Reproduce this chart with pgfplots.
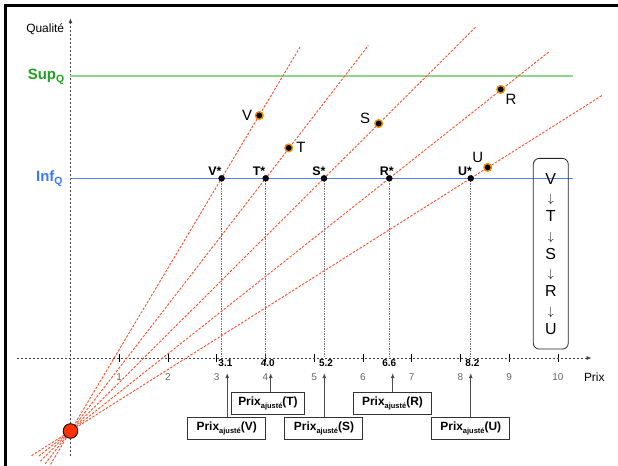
\documentclass[border=0pt]{standalone}
\usepackage{fontspec}
\setmainfont{Liberation Sans}
\usepackage{pgfplots}
\pgfplotsset{compat=1.18}
\usetikzlibrary{arrows.meta}

\definecolor{redl}{RGB}{255,75,40}
\definecolor{ofill}{RGB}{255,50,0}
\definecolor{ring}{RGB}{240,140,0}
\definecolor{greenl}{RGB}{140,215,140}
\definecolor{greent}{RGB}{30,160,30}
\definecolor{bluel}{RGB}{80,130,255}
\definecolor{bluet}{RGB}{60,120,255}

\newcommand{\prix}[1]{Prix\raisebox{-0.45ex}{\fontsize{7.5}{8}\selectfont ajusté}(#1)}
\newcommand{\da}{{\fontsize{13}{13}\selectfont$\downarrow$}}

\begin{document}
\begin{tikzpicture}
\begin{axis}[
  x=48.75bp, y=48.75bp,
  xmin=-1.1, xmax=10.69, ymin=-2.0, ymax=6.97,
  axis lines=middle,
  axis line style={black!75, line width=0.7bp, dash pattern=on 2bp off 2bp, -{Latex[length=5bp,width=4bp]}},
  xtick={1,...,10}, ytick=\empty,
  major tick length=8bp,
  tick style={black, solid, line width=0.8bp},
  /pgf/number format/assume math mode=true,
  xticklabel style={font=\fontsize{10}{12}\selectfont, text=black!60, anchor=base, yshift=-18.7bp},
  clip=false,
]
% frame
\draw[line width=3bp, black] (axis cs:-1.333,-2.4) -- (axis cs:-1.333,7.235) -- (axis cs:11.4,7.235);

% Sup / Inf lines
\addplot[greenl, line width=2bp, mark=none] coordinates {(0,5.778) (10.3,5.778)};
\addplot[bluel, line width=1.5bp, mark=none] coordinates {(0,3.686) (10.3,3.686)};

% rays from the origin point
\addplot[redl, line width=0.9bp, dash pattern=on 2.5bp off 1.5bp, mark=none] coordinates {(-0.41,-2.183) (0,-1.497) (4.71,6.378)};
\addplot[redl, line width=0.9bp, dash pattern=on 2.5bp off 1.5bp, mark=none] coordinates {(-0.52,-2.170) (0,-1.497) (6.11,6.412)};
\addplot[redl, line width=0.9bp, dash pattern=on 2.5bp off 1.5bp, mark=none] coordinates {(-0.62,-2.115) (0,-1.497) (8.31,6.786)};
\addplot[redl, line width=0.9bp, dash pattern=on 2.5bp off 1.5bp, mark=none] coordinates {(-0.65,-2.012) (0,-1.497) (9.82,6.285)};
\addplot[redl, line width=0.9bp, dash pattern=on 2.5bp off 1.5bp, mark=none] coordinates {(-0.80,-2.002) (0,-1.497) (10.92,5.397)};

% vertical drop lines
\addplot[black!55, line width=0.7bp, dash pattern=on 1.5bp off 1bp, mark=none] coordinates {(3.10,3.686) (3.10,0)};
\addplot[black!55, line width=0.7bp, dash pattern=on 1.5bp off 1bp, mark=none] coordinates {(4.004,3.686) (4.004,0)};
\addplot[black!55, line width=0.7bp, dash pattern=on 1.5bp off 1bp, mark=none] coordinates {(5.20,3.686) (5.20,0)};
\addplot[black!55, line width=0.7bp, dash pattern=on 1.5bp off 1bp, mark=none] coordinates {(6.54,3.686) (6.54,0)};
\addplot[black!55, line width=0.7bp, dash pattern=on 1.5bp off 1bp, mark=none] coordinates {(8.21,3.686) (8.21,0)};

% starred points
\addplot[only marks, mark=*, mark size=3bp, black] coordinates {(3.10,3.686) (4.004,3.686) (5.20,3.686) (6.54,3.686) (8.21,3.686)};
% products
\addplot[only marks, mark=*, mark size=3.8bp, mark options={fill=black, draw=ring, line width=1.4bp}] coordinates {(3.873,4.975) (4.476,4.31) (6.322,4.81) (8.825,5.51) (8.558,3.91)};
% origin point
\addplot[only marks, mark=*, mark size=7.3bp, mark options={fill=ofill, draw=black, line width=0.8bp}] coordinates {(0,-1.497)};

% axis labels
\node[anchor=base, font=\fontsize{12}{14}\selectfont] at (axis cs:-0.519,6.687) {Qualité};
\node[anchor=base, font=\fontsize{12}{14}\selectfont] at (axis cs:10.745,-0.486) {Prix};
\node[anchor=base west, inner sep=0pt, font=\fontsize{15}{17}\selectfont\bfseries, text=greent] at (axis cs:-0.878,5.717) {Sup\raisebox{-3bp}{\fontsize{10.5}{11}\selectfont Q}};
\node[anchor=base west, inner sep=0pt, font=\fontsize{15}{17}\selectfont\bfseries, text=bluet] at (axis cs:-0.708,3.617) {Inf\raisebox{-3bp}{\fontsize{10.5}{11}\selectfont Q}};

% star labels
\node[anchor=base, font=\fontsize{12.5}{14}\selectfont\bfseries] at (axis cs:2.964,3.754) {V*};
\node[anchor=base, font=\fontsize{12.5}{14}\selectfont\bfseries] at (axis cs:3.867,3.754) {T*};
\node[anchor=base, font=\fontsize{12.5}{14}\selectfont\bfseries] at (axis cs:5.097,3.754) {S*};
\node[anchor=base, font=\fontsize{12.5}{14}\selectfont\bfseries] at (axis cs:6.486,3.754) {R*};
\node[anchor=base, font=\fontsize{12.5}{14}\selectfont\bfseries] at (axis cs:8.092,3.754) {U*};

% product labels
\node[anchor=base, font=\fontsize{15}{17}\selectfont] at (axis cs:3.621,4.882) {V};
\node[anchor=base, font=\fontsize{15}{17}\selectfont] at (axis cs:4.728,4.211) {T};
\node[anchor=base, font=\fontsize{15}{17}\selectfont] at (axis cs:6.041,4.814) {S};
\node[anchor=base, font=\fontsize{15}{17}\selectfont] at (axis cs:9.036,5.210) {R};
\node[anchor=base, font=\fontsize{15}{17}\selectfont] at (axis cs:8.353,4.014) {U};

% adjusted price values
\node[anchor=base, font=\fontsize{10}{11}\selectfont\bfseries] at (axis cs:3.178,-0.164) {3.1};
\node[anchor=base, font=\fontsize{10}{11}\selectfont\bfseries] at (axis cs:4.045,-0.164) {4.0};
\node[anchor=base, font=\fontsize{10}{11}\selectfont\bfseries] at (axis cs:5.241,-0.164) {5.2};
\node[anchor=base, font=\fontsize{10}{11}\selectfont\bfseries] at (axis cs:6.54,-0.164) {6.6};
\node[anchor=base, font=\fontsize{10}{11}\selectfont\bfseries] at (axis cs:8.244,-0.164) {8.2};

% arrows
\draw[black!70, line width=1bp, -{Latex[length=5bp,width=4bp]}] (axis cs:3.215,-1.221) -- (axis cs:3.215,-0.308);
\draw[black!70, line width=1bp, -{Latex[length=5bp,width=4bp]}] (axis cs:4.108,-0.708) -- (axis cs:4.108,-0.308);
\draw[black!70, line width=1bp, -{Latex[length=5bp,width=4bp]}] (axis cs:5.206,-1.221) -- (axis cs:5.206,-0.308);
\draw[black!70, line width=1bp, -{Latex[length=5bp,width=4bp]}] (axis cs:6.609,-0.708) -- (axis cs:6.609,-0.308);
\draw[black!70, line width=1bp, -{Latex[length=5bp,width=4bp]}] (axis cs:8.21,-1.221) -- (axis cs:8.21,-0.308);

% boxes
\tikzset{pbox/.style={draw=black!80, fill=white, line width=1bp, minimum width=78bp, minimum height=22bp, inner sep=0pt, font=\fontsize{12}{14}\selectfont\bfseries}}
\node[pbox] at (axis cs:3.204,-1.446) {\prix{V}};
\node[pbox, minimum width=73bp] at (axis cs:4.051,-0.933) {\prix{T}};
\node[pbox] at (axis cs:5.20,-1.446) {\prix{S}};
\node[pbox] at (axis cs:6.605,-0.933) {\prix{R}};
\node[pbox] at (axis cs:8.211,-1.446) {\prix{U}};

% ranking box
\node[draw=black!85, line width=0.8bp, rounded corners=6bp, minimum width=35bp, minimum height=190.7bp, inner sep=0pt, align=center, font=\fontsize{16}{18.8}\selectfont] at (axis cs:9.852,2.139) {V\\\da\\T\\\da\\S\\\da\\R\\\da\\U};

\coordinate (bl) at (axis cs:-1.446,-2.195);
\coordinate (tr) at (axis cs:11.231,7.344);
\end{axis}
\pgfresetboundingbox
\path[use as bounding box] (bl) rectangle (tr);
\end{tikzpicture}
\end{document}
